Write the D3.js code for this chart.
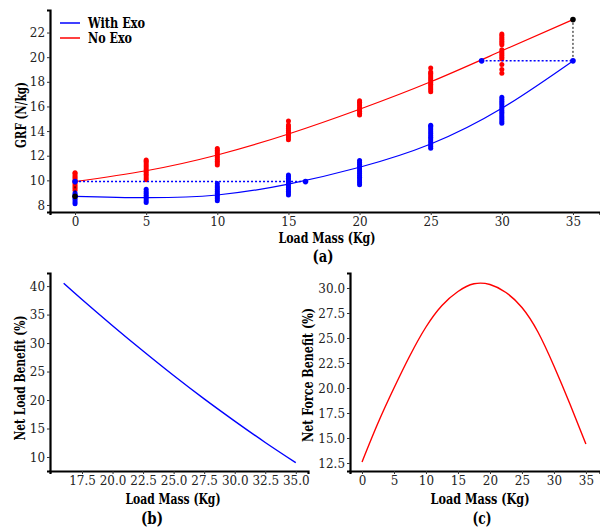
<!DOCTYPE html>
<html><head><meta charset="utf-8">
<script src="https://cdn.jsdelivr.net/npm/d3@7"></script>
<style>
body{margin:0;background:#fff;}
svg{display:block;}
</style>
</head><body>
<svg id="chart" width="600" height="529"></svg>
<script>
// ---- Panel (a) data ----
const loads = [0, 5, 10, 15, 20, 25, 30];
const redSamples = [
  [9.2, 9.35, 9.5, 9.65, 9.8, 9.95, 10.1, 10.25, 10.4, 10.55, 10.62],
  [10.05, 10.2, 10.35, 10.5, 10.65, 10.8, 10.95, 11.1, 11.25, 11.4, 11.55, 11.65],
  [11.25, 11.4, 11.55, 11.7, 11.85, 12.0, 12.15, 12.3, 12.45, 12.58],
  [13.3, 13.45, 13.6, 13.75, 13.9, 14.05, 14.2, 14.35, 14.5, 14.82],
  [15.3, 15.45, 15.6, 15.75, 15.9, 16.05, 16.2, 16.35, 16.47],
  [17.2, 17.35, 17.5, 17.65, 17.8, 17.95, 18.1, 18.25, 18.4, 18.55, 18.7, 18.8, 19.12],
  [18.7, 19.0, 19.4, 19.85, 20.0, 20.15, 20.3, 20.45, 20.6, 21.0, 21.15, 21.3, 21.45, 21.6, 21.75, 21.88]
];
const blueSamples = [
  [8.1, 8.25, 8.4, 8.55, 8.7, 8.85, 8.97],
  [8.2, 8.35, 8.5, 8.65, 8.8, 8.95, 9.1, 9.27],
  [8.35, 8.5, 8.65, 8.8, 8.95, 9.1, 9.25, 9.4, 9.55, 9.75],
  [8.82, 8.97, 9.12, 9.27, 9.42, 9.57, 9.72, 9.87, 10.02, 10.17, 10.32, 10.43],
  [9.65, 9.8, 9.95, 10.1, 10.25, 10.4, 10.55, 10.7, 10.85, 11.0, 11.15, 11.3, 11.45, 11.62],
  [12.6, 12.75, 12.9, 13.05, 13.2, 13.35, 13.5, 13.65, 13.8, 13.95, 14.1, 14.25, 14.4, 14.48],
  [14.63, 14.78, 14.93, 15.08, 15.23, 15.38, 15.53, 15.68, 15.83, 15.98, 16.13, 16.28, 16.43, 16.58, 16.74]
];
const fitLoads = [0, 5, 10, 15, 20, 25, 30, 35];
const redFit  = [9.9, 10.78, 12.06, 13.76, 15.77, 18.0, 20.52, 23.05];
const blueFit = [8.7, 8.59, 8.81, 9.7, 11.06, 12.95, 15.85, 19.7];
const blueMarkers = [[0, 9.9], [16.2, 9.9], [35, 19.7], [28.58, 19.7]];
const blackMarkers = [[0, 8.7], [35, 23.05]];
const blueGuides = [[[0, 9.9], [16.2, 9.9]], [[28.58, 19.7], [35, 19.7]]];
const blackGuides = [[[0, 8.7], [0, 9.9]], [[35, 19.7], [35, 23.05]]];
const aXTicks = [0, 5, 10, 15, 20, 25, 30, 35];
const aYTicks = [8, 10, 12, 14, 16, 18, 20, 22];
const legendLabels = ["With Exo", "No Exo"];
const seriesColors = ["#0000ff", "#ff0000"];

// ---- Panel (b) data ----
const bLoad    = [16.0, 17.5, 20.0, 22.5, 25.0, 27.5, 30.0, 32.5, 35.0];
const bBenefit = [40.5, 37.65, 33.05, 28.6, 24.3, 20.2, 16.3, 12.55, 9.0];
const bXTicks = [17.5, 20.0, 22.5, 25.0, 27.5, 30.0, 32.5, 35.0];
const bYTicks = [10, 15, 20, 25, 30, 35, 40];

// ---- Panel (c) data ----
const cLoad    = [0, 2.5, 5, 7.5, 10, 12.5, 15, 17.5, 20, 22.5, 25, 27.5, 30, 32.5, 35];
const cBenefit = [12.6, 16.5, 20.0, 23.25, 26.1, 28.25, 29.65, 30.42, 30.35, 29.55, 28.05, 25.6, 22.2, 18.4, 14.4];
const cXTicks = [0, 5, 10, 15, 20, 25, 30, 35];
const cYTicks = [12.5, 15.0, 17.5, 20.0, 22.5, 25.0, 27.5, 30.0];

const SERIF = "DejaVu Serif";

const svg = d3.select("#chart");
svg.append("rect").attr("width", 600).attr("height", 529).attr("fill", "#fff");

function styleAxis(g) {
  g.attr("font-family", SERIF).attr("font-size", 13);
  g.selectAll(".tick text").style("font-family", SERIF).attr("font-size", 13).attr("fill", "#222")
    .each(function () {
      const L = this.getComputedTextLength();
      d3.select(this).attr("textLength", L * 0.92).attr("lengthAdjust", "spacingAndGlyphs");
    });
  g.select(".domain").attr("stroke", "#000").attr("stroke-width", 2.2);
  g.selectAll(".tick line").attr("stroke", "#333").attr("stroke-width", 1);
}

function drawAxes(x, y, xt, yt, xfmt, yfmt) {
  const gx = svg.append("g").attr("transform", `translate(0,${y.range()[0]})`)
    .call(d3.axisBottom(x).tickValues(xt).tickSizeOuter(0).tickSize(3).tickPadding(2).tickFormat(xfmt));
  styleAxis(gx);
  const gy = svg.append("g").attr("transform", `translate(${x.range()[0]},0)`)
    .call(d3.axisLeft(y).tickValues(yt).tickSizeOuter(0).tickSize(3).tickPadding(2).tickFormat(yfmt));
  styleAxis(gy);
}

function title(txt, x, y, size, rot, width) {
  const t = svg.append("text").style("font-family", SERIF).attr("font-weight", "bold")
    .attr("fill", "#000").attr("text-anchor", "middle")
    .attr("font-size", size).text(txt);
  if (width) t.attr("textLength", width).attr("lengthAdjust", "spacingAndGlyphs");
  if (rot) t.attr("transform", `translate(${x},${y}) rotate(-90)`).attr("dy", "0.35em");
  else t.attr("x", x).attr("y", y);
}

// ================= Panel (a) =================
const xa = d3.scaleLinear().domain([-1.76, 36.9]).range([50, 600]);
const ya = d3.scaleLinear().domain([7.43, 23.83]).range([212, 10]);

loads.forEach((L, i) => {
  svg.append("g").selectAll("circle").data(redSamples[i]).join("circle")
    .attr("cx", xa(L)).attr("cy", d => ya(d)).attr("r", 2.5).attr("fill", seriesColors[1]);
  svg.append("g").selectAll("circle").data(blueSamples[i]).join("circle")
    .attr("cx", xa(L)).attr("cy", d => ya(d)).attr("r", 2.5).attr("fill", seriesColors[0]);
});

const lineA = d3.line().x(d => xa(d[0])).y(d => ya(d[1])).curve(d3.curveNatural);
svg.append("path").attr("d", lineA(fitLoads.map((l, i) => [l, blueFit[i]])))
  .attr("fill", "none").attr("stroke", seriesColors[0]).attr("stroke-width", 1.2);
svg.append("path").attr("d", lineA(fitLoads.map((l, i) => [l, redFit[i]])))
  .attr("fill", "none").attr("stroke", seriesColors[1]).attr("stroke-width", 1.2);

const straight = d3.line().x(d => xa(d[0])).y(d => ya(d[1]));
blueGuides.forEach(g => svg.append("path").attr("d", straight(g)).attr("fill", "none")
  .attr("stroke", "#0000ff").attr("stroke-width", 1.5).attr("stroke-dasharray", "2,2"));
blackGuides.forEach(g => svg.append("path").attr("d", straight(g)).attr("fill", "none")
  .attr("stroke", "#000").attr("stroke-width", 1).attr("stroke-dasharray", "2,2"));
svg.append("g").selectAll("circle").data(blueMarkers).join("circle")
  .attr("cx", d => xa(d[0])).attr("cy", d => ya(d[1])).attr("r", 2.8).attr("fill", "#0000ff");
svg.append("g").selectAll("circle").data(blackMarkers).join("circle")
  .attr("cx", d => xa(d[0])).attr("cy", d => ya(d[1])).attr("r", 2.8).attr("fill", "#000");

drawAxes(xa, ya, aXTicks, aYTicks, d3.format("d"), d3.format("d"));

const legendWidths = [57, 44];
legendLabels.forEach((lab, i) => {
  const ly = 23 + i * 15;
  svg.append("line").attr("x1", 60).attr("x2", 80).attr("y1", ly).attr("y2", ly)
    .attr("stroke", seriesColors[i]).attr("stroke-width", 1.5);
  svg.append("text").style("font-family", SERIF).attr("font-weight", "bold")
    .attr("x", 88).attr("y", ly + 5).attr("font-size", 14)
    .attr("textLength", legendWidths[i]).attr("lengthAdjust", "spacingAndGlyphs").text(lab);
});

title("GRF (N/kg)", 21, 115, 14, true, 66);
title("Load Mass (Kg)", 327, 243, 14, false, 97);
title("(a)", 323, 262, 16, false, 21);

// ================= Panel (b) =================
const xb = d3.scaleLinear().domain([14.88, 36.0]).range([50, 308]);
const yb = d3.scaleLinear().domain([7.54, 42.3]).range([471, 273]);
const lineB = d3.line().x(d => xb(d[0])).y(d => yb(d[1])).curve(d3.curveNatural);
svg.append("path").attr("d", lineB(bLoad.map((l, i) => [l, bBenefit[i]])))
  .attr("fill", "none").attr("stroke", "#0000ff").attr("stroke-width", 1.4);
drawAxes(xb, yb, bXTicks, bYTicks, d3.format(".1f"), d3.format("d"));
title("Net Load Benefit (%)", 20, 378, 14, true, 125);
title("Load Mass (Kg)", 173, 504, 14, false, 95);
title("(b)", 152, 524, 17, false, 22);

// ================= Panel (c) =================
const xc = d3.scaleLinear().domain([-1.875, 37.2]).range([350, 600]);
const yc = d3.scaleLinear().domain([11.7, 31.5]).range([471, 273]);
const lineC = d3.line().x(d => xc(d[0])).y(d => yc(d[1])).curve(d3.curveNatural);
svg.append("path").attr("d", lineC(cLoad.map((l, i) => [l, cBenefit[i]])))
  .attr("fill", "none").attr("stroke", "#ff0000").attr("stroke-width", 1.4);
drawAxes(xc, yc, cXTicks, cYTicks, d3.format("d"), d3.format(".1f"));
title("Net Force Benefit (%)", 308, 375, 14, true, 134);
title("Load Mass (Kg)", 480, 504, 14, false, 99);
title("(c)", 482, 524, 17, false, 19);
</script>
</body></html>
